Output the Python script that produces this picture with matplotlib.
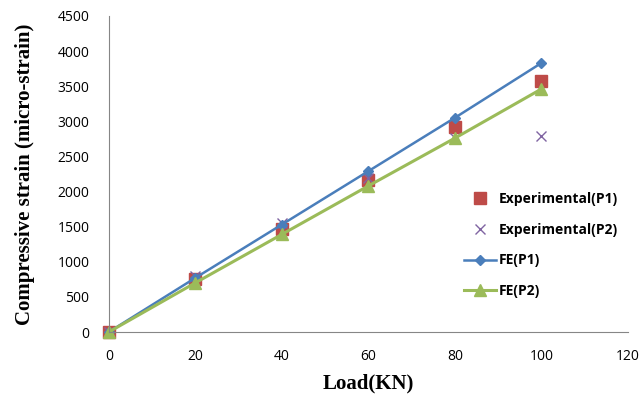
import numpy as np
import matplotlib.pyplot as plt

load = [0, 20, 40, 60, 80, 100]
exp_p1 = [0, 750, 1470, 2170, 2920, 3570]
exp_p2 = [0, 800, 1550, 2200, 2760, 2790]
fe_p1 = [0, 770, 1530, 2290, 3050, 3830]
fe_p2 = [0, 700, 1390, 2080, 2760, 3460]

blue = "#4A7EBB"
red = "#BE4B48"
purple = "#8064A2"
green = "#9BBB59"
gray = "#868686"

fig = plt.figure(figsize=(6.4, 4.0), dpi=100)
ax = fig.add_axes([0.170, 0.17, 0.811, 0.79])

ax.plot(load, exp_p1, ls="none", marker="s", ms=8, color=red, label="Experimental(P1)")
ax.plot(load, exp_p2, ls="none", marker="x", ms=7, mew=1.0, color=purple, label="Experimental(P2)")
ax.plot(load, fe_p1, color=blue, lw=1.8, marker="D", ms=5, label="FE(P1)")
ax.plot(load, fe_p2, color=green, lw=2.2, marker="^", ms=8, label="FE(P2)")

ax.set_xlim(0, 120)
ax.set_ylim(0, 4500)
ax.set_xticks(np.arange(0, 121, 20))
ax.set_yticks(np.arange(0, 4501, 500))
for s in ["top", "right"]:
    ax.spines[s].set_visible(False)
for s in ["left", "bottom"]:
    ax.spines[s].set_color(gray)
    ax.spines[s].set_linewidth(0.8)
ax.tick_params(axis="x", length=0, labelsize=10, pad=12)
ax.tick_params(axis="y", length=0, labelsize=10, pad=14)
for lab in ax.get_xticklabels() + ax.get_yticklabels():
    lab.set_family("Open Sans")
for ln in ax.lines:
    ln.set_clip_on(False)

ax.set_xlabel("Load(KN)", fontsize=15, fontweight="bold", family="Liberation Serif", labelpad=7)
ax.set_ylabel("Compressive strain (micro-strain)", fontsize=15, fontweight="bold",
              family="Liberation Serif", labelpad=16)

leg = ax.legend(loc="center left", bbox_to_anchor=(0.66, 0.275), frameon=False,
                labelspacing=1.2, handlelength=2.3, handletextpad=0.2,
                prop={"family": "Open Sans", "weight": "bold", "size": 10})

fig.savefig("out.png", dpi=100)
